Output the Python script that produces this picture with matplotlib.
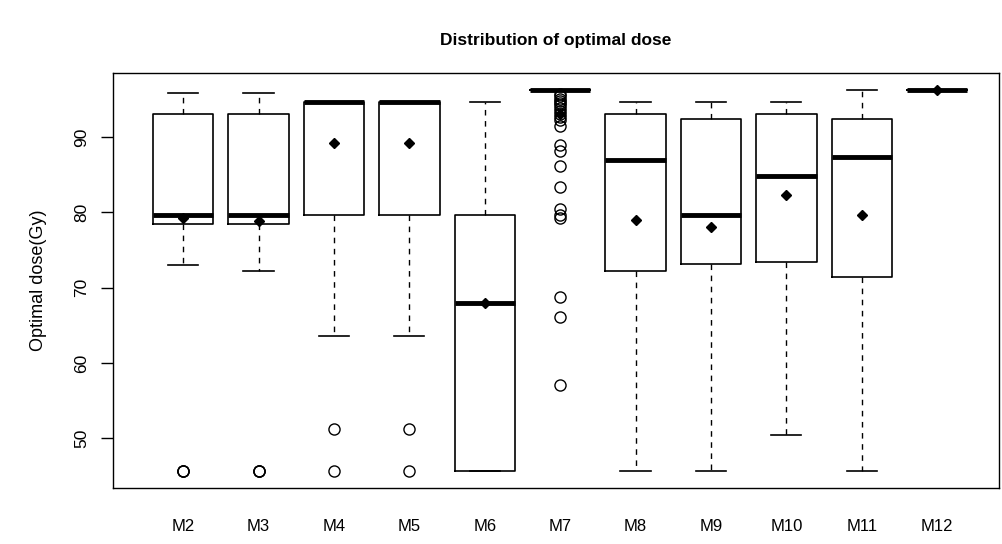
import matplotlib
matplotlib.use("Agg")
import matplotlib.pyplot as plt

plt.rcParams['font.family'] = ['Liberation Sans', 'DejaVu Sans']

# five-number summaries per model, read as q1 / median / q3 / whisker ends
labels = ['M2', 'M3', 'M4', 'M5', 'M6', 'M7', 'M8', 'M9', 'M10', 'M11', 'M12']
q1 = [78.5, 78.5, 79.7, 79.7, 45.6, 96.2, 72.2, 73.2, 73.4, 71.4, 96.2]
med = [79.7, 79.7, 94.6, 94.6, 67.9, 96.2, 86.9, 79.7, 84.8, 87.3, 96.2]
q3 = [93.0, 93.0, 94.6, 94.6, 79.7, 96.2, 93.0, 92.4, 93.0, 92.4, 96.2]
whislo = [73.0, 72.2, 63.6, 63.6, 45.6, 96.2, 45.6, 45.6, 50.5, 45.6, 96.2]
whishi = [95.9, 95.9, 94.6, 94.6, 94.6, 96.2, 94.6, 94.6, 94.6, 96.2, 96.2]
means = [79.3, 78.8, 89.2, 89.2, 67.9, 93.0, 79.0, 78.1, 82.3, 79.6, 96.2]
outliers = [
    [45.6, 45.6, 45.6],
    [45.6, 45.6, 45.6],
    [51.2, 45.6],
    [51.2, 45.6],
    [],
    [95.7, 95.4, 95.1, 94.8, 94.5, 94.2, 93.8, 93.4, 93.0, 92.6, 92.2, 91.5,
     89.0, 88.1, 86.1, 83.3, 80.4, 79.7, 79.3, 68.7, 66.1, 57.1],
    [],
    [],
    [],
    [],
    [],
]

stats = []
for i, name in enumerate(labels):
    stats.append(dict(label=name, q1=q1[i], med=med[i], q3=q3[i],
                      whislo=whislo[i], whishi=whishi[i], fliers=outliers[i]))

fig = plt.figure(figsize=(10.02, 5.44), dpi=100)
ax = fig.add_axes([113 / 1002, 1 - 488 / 544, (999 - 113) / 1002, (488 - 73) / 544])

pos = list(range(1, len(labels) + 1))
ax.bxp(stats, positions=pos, widths=0.8, capwidths=0.4, showfliers=True,
       boxprops=dict(color='black', linewidth=1.2),
       medianprops=dict(color='black', linewidth=3.5, solid_capstyle='butt'),
       whiskerprops=dict(color='black', linewidth=1.0, linestyle=(0, (4, 4))),
       capprops=dict(color='black', linewidth=1.2),
       flierprops=dict(marker='o', markerfacecolor='none', markeredgecolor='black',
                       markersize=8, markeredgewidth=1.0))
ax.plot(pos, means, linestyle='none', marker='D', color='black', markersize=5.5)

ax.set_xlim(0.07, 11.82)
ax.set_ylim(43.4, 98.5)
ax.set_yticks([50, 60, 70, 80, 90])
ax.set_yticklabels(['50', '60', '70', '80', '90'], rotation=90, va='center', fontsize=12.5)
ax.set_xticks(pos)
ax.set_xticklabels(labels, fontsize=12)
ax.tick_params(axis='x', length=0, pad=22)
ax.tick_params(axis='y', length=9, width=1.0, pad=8)
for s in ax.spines.values():
    s.set_linewidth(1.0)

ax.set_ylabel('Optimal dose(Gy)', fontsize=13, labelpad=20)
fig.text((113 + 999) / 2 / 1002, 1 - 40 / 544, 'Distribution of optimal dose',
         ha='center', va='center', fontsize=12.5, fontweight='bold')

fig.savefig('out.png', dpi=100)
